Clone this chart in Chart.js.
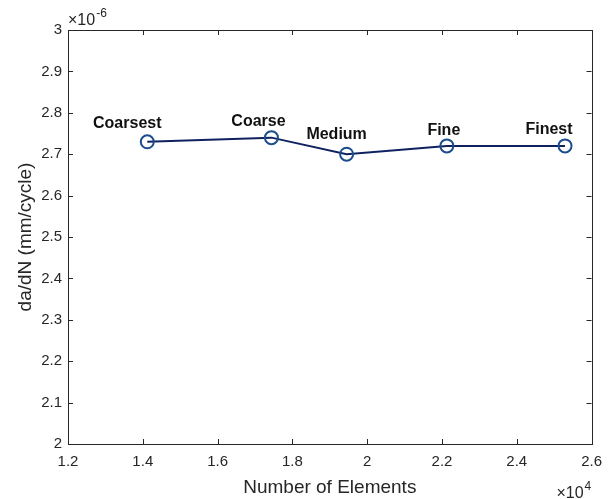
<!DOCTYPE html>
<html>
<head>
<meta charset="utf-8">
<script src="https://cdn.jsdelivr.net/npm/chart.js@4.4.1/dist/chart.umd.min.js"></script>
<style>
  html, body { margin: 0; padding: 0; background: #fff; }
  #wrap { position: relative; width: 611px; height: 499px; }
</style>
</head>
<body>
<div id="wrap"><canvas id="mesh-chart"></canvas></div>
<script>
// mesh convergence study
var meshNames = ['Coarsest', 'Coarse', 'Medium', 'Fine', 'Finest'];
var elementCounts = [14120, 17440, 19450, 22130, 25290];
// da/dN in units of 1e-6 mm/cycle
var crackRate = [2.73, 2.74, 2.70, 2.72, 2.72];
var xTicks = [12000, 14000, 16000, 18000, 20000, 22000, 24000, 26000];
var yTicks = [2, 2.1, 2.2, 2.3, 2.4, 2.5, 2.6, 2.7, 2.8, 2.9, 3];

var axisColor = '#262626';
var fontFamily = 'Arial, "Liberation Sans", sans-serif';

// where each name sits relative to its marker (pixels)
var labelShift = [[-20, -18], [-13, -16], [-10, -20], [-3, -15], [-16, -16]];

var boxPlugin = {
  id: 'matlabBox',
  afterDraw: function (chart) {
    var ctx = chart.ctx;
    var a = chart.chartArea;
    var xs = chart.scales.x, ys = chart.scales.y;
    var tl = 5;
    ctx.save();
    ctx.strokeStyle = axisColor;
    ctx.lineWidth = 1;
    ctx.strokeRect(Math.round(a.left) + 0.5, Math.round(a.top) + 0.5,
      Math.round(a.right - a.left), Math.round(a.bottom - a.top));
    ctx.beginPath();
    xTicks.forEach(function (v) {
      var px = Math.round(xs.getPixelForValue(v)) + 0.5;
      ctx.moveTo(px, a.bottom); ctx.lineTo(px, a.bottom - tl);
      ctx.moveTo(px, a.top); ctx.lineTo(px, a.top + tl);
    });
    yTicks.forEach(function (v) {
      var py = Math.round(ys.getPixelForValue(v)) + 0.5;
      ctx.moveTo(a.left, py); ctx.lineTo(a.left + tl, py);
      ctx.moveTo(a.right, py); ctx.lineTo(a.right - tl, py);
    });
    ctx.stroke();

    // point names
    ctx.fillStyle = '#111';
    ctx.font = 'bold 16px ' + fontFamily;
    ctx.textAlign = 'center';
    ctx.textBaseline = 'middle';
    meshNames.forEach(function (name, i) {
      var px = xs.getPixelForValue(elementCounts[i]);
      var py = ys.getPixelForValue(crackRate[i]);
      ctx.fillText(name, px + labelShift[i][0], py + labelShift[i][1]);
    });

    // exponent multipliers
    ctx.fillStyle = axisColor;
    ctx.textAlign = 'left';
    ctx.textBaseline = 'alphabetic';
    ctx.font = '16px ' + fontFamily;
    ctx.fillText('\u00d710', a.left, a.top - 5);
    var w = ctx.measureText('\u00d710').width;
    ctx.font = '12px ' + fontFamily;
    ctx.fillText('-6', a.left + w + 1, a.top - 13);

    ctx.font = '16px ' + fontFamily;
    var w2 = ctx.measureText('\u00d710').width;
    var bx = a.right - w2 - 8;
    ctx.fillText('\u00d710', bx, 498);
    ctx.font = '12px ' + fontFamily;
    ctx.fillText('4', bx + w2 + 1, 490);
    ctx.restore();
  }
};

var config = {
  type: 'line',
  data: {
    datasets: [
      {
        data: elementCounts.map(function (n, i) { return { x: n, y: crackRate[i] }; }),
        borderColor: '#0f2260',
        borderWidth: 2,
        pointRadius: 6.5,
        pointBorderWidth: 2,
        pointBorderColor: '#1c4d8e',
        pointBackgroundColor: 'rgba(0,0,0,0)',
        tension: 0
      }
    ]
  },
  options: {
    responsive: true,
    maintainAspectRatio: false,
    animation: false,
    layout: { padding: { top: 30, right: 18, left: 0, bottom: 0 } },
    plugins: {
      legend: { display: false },
      tooltip: { enabled: false }
    },
    scales: {
      x: {
        type: 'linear',
        min: 12000,
        max: 26000,
        afterBuildTicks: function (s) { s.ticks = xTicks.map(function (v) { return { value: v }; }); },
        afterFit: function (s) { s.height = 55; },
        grid: { display: false, drawTicks: false },
        border: { display: false },
        ticks: {
          color: axisColor,
          font: { family: fontFamily, size: 15 },
          padding: 9,
          maxRotation: 0,
          callback: function (v) { return String(+(v / 1e4).toFixed(2)); }
        },
        title: {
          display: true,
          text: 'Number of Elements',
          color: axisColor,
          font: { family: fontFamily, size: 19 },
          padding: { top: 0, bottom: 0 }
        }
      },
      y: {
        type: 'linear',
        min: 2,
        max: 3,
        afterBuildTicks: function (s) { s.ticks = yTicks.map(function (v) { return { value: v }; }); },
        afterFit: function (s) { s.width = 68; },
        grid: { display: false, drawTicks: false },
        border: { display: false },
        ticks: {
          color: axisColor,
          font: { family: fontFamily, size: 15 },
          padding: 6,
          callback: function (v) { return String(+v.toFixed(2)); }
        },
        title: {
          display: true,
          text: 'da/dN (mm/cycle)',
          color: axisColor,
          font: { family: fontFamily, size: 19 },
          padding: { top: 14, bottom: 0 }
        }
      }
    }
  },
  plugins: [boxPlugin]
};

var ctx = document.getElementById('mesh-chart').getContext('2d');
var meshChart = new Chart(ctx, config);
</script>
</body>
</html>
